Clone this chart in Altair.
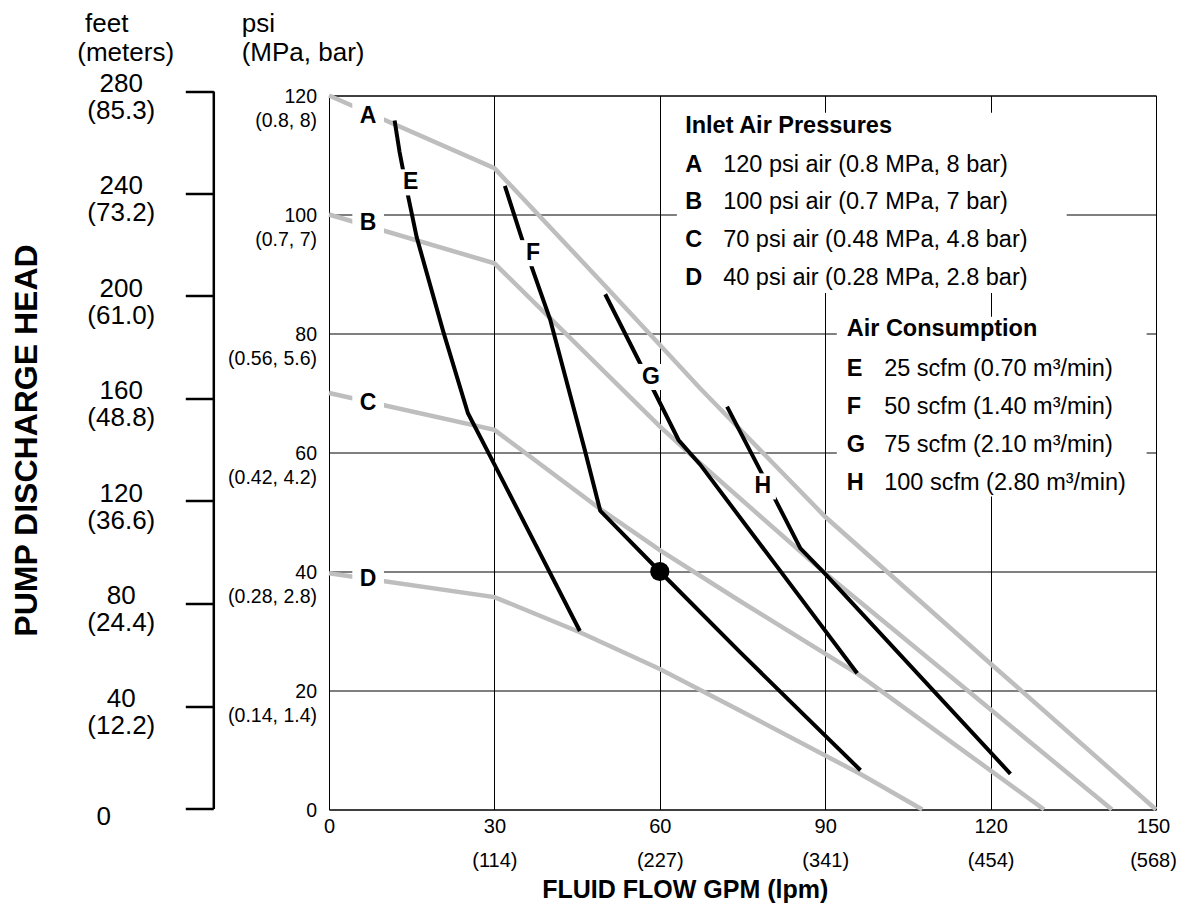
import altair as alt
import pandas as pd

FONT = "Liberation Sans"

# ---------------- axis ticks and labels ----------------
gpm_ticks = [0, 30, 60, 90, 120, 150]
lpm_labels = ["", "(114)", "(227)", "(341)", "(454)", "(568)"]
psi_ticks = [0, 20, 40, 60, 80, 100, 120]
mpa_bar_labels = ["", "(0.14, 1.4)", "(0.28, 2.8)", "(0.42, 4.2)", "(0.56, 5.6)", "(0.7, 7)", "(0.8, 8)"]
feet_ticks = [0, 40, 80, 120, 160, 200, 240, 280]
meter_labels = ["", "(12.2)", "(24.4)", "(36.6)", "(48.8)", "(61.0)", "(73.2)", "(85.3)"]

# ---------------- inlet air pressure curves (gray) ----------------
A_gpm = [0, 30, 50.4, 67.3, 90, 120, 150]
A_psi = [120, 107.8, 87.7, 70.8, 49.2, 24.5, 0]
B_gpm = [0, 30, 60, 67.3, 90, 120, 142]
B_psi = [100, 91.8, 64.4, 58.2, 39.7, 16.8, 0]
C_gpm = [0, 30, 49.2, 60, 74.6, 95.9, 129.7]
C_psi = [70, 63.8, 50.5, 43.6, 35.0, 22.8, 0]
D_gpm = [0, 30, 45.5, 60, 74.6, 96.3, 107.6]
D_psi = [39.7, 35.7, 29.8, 23.6, 16.6, 6.0, 0]

# ---------------- air consumption curves (black) ----------------
E_gpm = [11.9, 12.8, 14.3, 15.9, 20.7, 25.2, 30.0, 45.5]
E_psi = [115.8, 110.5, 103.3, 96.2, 80.4, 66.6, 58.0, 30.0]
F_gpm = [31.9, 35.2, 40.1, 46.4, 49.2, 60, 74.6, 96.4]
F_psi = [104.8, 95.3, 82.4, 60.4, 50.2, 40.0, 26.4, 6.6]
G_gpm = [50.1, 56.7, 63.4, 67.3, 81.2, 95.8]
G_psi = [86.6, 74.5, 62.1, 58.0, 40.9, 22.9]
H_gpm = [72.2, 78.5, 85.5, 90.0, 123.6]
H_psi = [67.7, 56.5, 43.9, 39.6, 6.0]

# example operating point
dot_gpm = [60]
dot_psi = [40]

# ---------------- curve letters / legend text ----------------
inlet_keys = ["A", "B", "C", "D"]
inlet_desc = ["120 psi air (0.8 MPa, 8 bar)", "100 psi air (0.7 MPa, 7 bar)",
              "70 psi air (0.48 MPa, 4.8 bar)", "40 psi air (0.28 MPa, 2.8 bar)"]
air_keys = ["E", "F", "G", "H"]
air_desc = ["25 scfm (0.70 m³/min)", "50 scfm (1.40 m³/min)",
            "75 scfm (2.10 m³/min)", "100 scfm (2.80 m³/min)"]

inlet_label_gpm = [7.1, 7.1, 7.1, 7.1]
inlet_label_psi = [116.6, 98.6, 68.3, 38.7]
air_label_gpm = [14.8, 37.0, 58.4, 78.7]
air_label_psi = [105.4, 93.5, 72.7, 54.3]

# ---------------- legend layout (data units) ----------------
leg1_x, leg1_title_y, leg1_row0, leg1_step, leg1_desc_x = 64.6, 113.7, 107.2, 6.33, 71.5
leg2_x, leg2_title_y, leg2_row0, leg2_step, leg2_desc_x = 93.9, 79.5, 72.9, 6.4, 100.7
box_x = [63.1, 92.1]
box_x2 = [133.8, 148.3]
box_y = [117.1, 82.8]
box_y2 = [86.8, 52.6]

# ---------------- build tables ----------------
def curves(names, xs, ys):
    rows = []
    for n, cx, cy in zip(names, xs, ys):
        for i, (a, b) in enumerate(zip(cx, cy)):
            rows.append({"curve": n, "i": i, "gpm": a, "psi": b})
    return pd.DataFrame(rows)

gray_df = curves(inlet_keys, [A_gpm, B_gpm, C_gpm, D_gpm], [A_psi, B_psi, C_psi, D_psi])
black_df = curves(air_keys, [E_gpm, F_gpm, G_gpm, H_gpm], [E_psi, F_psi, G_psi, H_psi])
dot_df = pd.DataFrame({"gpm": dot_gpm, "psi": dot_psi})
inlet_lab_df = pd.DataFrame({"k": inlet_keys, "gpm": inlet_label_gpm, "psi": inlet_label_psi})
air_lab_df = pd.DataFrame({"k": air_keys, "gpm": air_label_gpm, "psi": air_label_psi})
box_df = pd.DataFrame({"x": box_x, "x2": box_x2, "y": box_y, "y2": box_y2})

leg_rows = []
for i, (k, d) in enumerate(zip(inlet_keys, inlet_desc)):
    leg_rows.append({"k": k, "d": d, "kx": leg1_x, "dx": leg1_desc_x, "y": leg1_row0 - i * leg1_step})
for i, (k, d) in enumerate(zip(air_keys, air_desc)):
    leg_rows.append({"k": k, "d": d, "kx": leg2_x, "dx": leg2_desc_x, "y": leg2_row0 - i * leg2_step})
leg_df = pd.DataFrame(leg_rows)
leg_title_df = pd.DataFrame({"t": ["Inlet Air Pressures", "Air Consumption"],
                             "x": [leg1_x, leg2_x], "y": [leg1_title_y, leg2_title_y]})
feet_df = pd.DataFrame({"ft": feet_ticks})
one = pd.DataFrame({"o": [0]})


def two_line_expr(vals, seconds):
    parts = [f"datum.value == {v} ? [datum.label, '{s}']" for v, s in zip(vals, seconds) if s]
    return " : ".join(parts) + " : datum.label"


x_axis = alt.Axis(
    values=gpm_ticks, grid=True, gridColor="black", gridWidth=1, gridOpacity=1,
    domain=False, ticks=False, tickSize=0,
    labelExpr=two_line_expr(gpm_ticks, lpm_labels),
    labelFont=FONT, labelFontSize=20, labelColor="black",
    labelBaseline="alphabetic", labelPadding=23, labelLineHeight=34,
    labelOffset={"condition": {"test": "datum.value === 150", "value": -3}, "value": 0},
    labelFlush=False, labelOverlap=False,
    title="FLUID FLOW GPM (lpm)", titleFont=FONT, titleFontSize=25,
    titleFontWeight="bold", titleColor="black", titleAnchor="start",
    titleAlign="left", titleBaseline="alphabetic", titleX=212.7, titleY=87.5,
)
y_axis = alt.Axis(
    values=psi_ticks, grid=True, gridColor="black", gridWidth=1, gridOpacity=1,
    domain=False, ticks=False, tickSize=0,
    labelExpr=two_line_expr(psi_ticks, mpa_bar_labels),
    labelFont=FONT, labelFontSize=19.5, labelColor="black", labelAlign="right",
    labelBaseline="alphabetic", labelOffset=7, labelPadding=12.5, labelLineHeight=24,
    labelOverlap=False,
    title="PUMP DISCHARGE HEAD", titleFont=FONT, titleFontSize=32,
    titleFontWeight="bold", titleColor="black", titleAngle=270,
    titleAlign="center", titleBaseline="alphabetic", titleX=-292.3, titleY=344.5,
)
feet_axis = alt.Axis(
    orient="left", offset=115.7, values=feet_ticks, grid=False,
    domain=True, domainColor="black", domainWidth=2.5,
    ticks=True, tickSize=28, tickWidth=2.5, tickColor="black",
    labelExpr=two_line_expr(feet_ticks, meter_labels),
    labelFont=FONT, labelFontSize=26, labelColor="black", labelAlign="center",
    labelBaseline="alphabetic", labelLineHeight=27,
    labelPadding={"condition": {"test": "datum.value === 0", "value": 82}, "value": 64.5},
    labelOffset={"condition": {"test": "datum.value === 0", "value": 16}, "value": 0},
    labelOverlap=False, title=None,
)

XS = alt.Scale(domain=[0, 150], nice=False, zero=False)
YS = alt.Scale(domain=[0, 120], nice=False, zero=False)


def X(f):
    return alt.X(f"{f}:Q", scale=XS, axis=x_axis)


def Y(f):
    return alt.Y(f"{f}:Q", scale=YS, axis=y_axis)


boxes = alt.Chart(box_df).mark_rect(color="white", opacity=1).encode(
    x=X("x"), x2="x2:Q", y=Y("y"), y2="y2:Q")
gray = alt.Chart(gray_df).mark_line(color="#bebebe", strokeWidth=4.5).encode(
    x=X("gpm"), y=Y("psi"), detail="curve:N", order="i:Q")
black = alt.Chart(black_df).mark_line(color="black", strokeWidth=4).encode(
    x=X("gpm"), y=Y("psi"), detail="curve:N", order="i:Q")
dot = alt.Chart(dot_df).mark_circle(color="black", size=370, opacity=1).encode(
    x=X("gpm"), y=Y("psi"))
sq_inlet = alt.Chart(inlet_lab_df).mark_square(color="white", size=1000, opacity=1).encode(
    x=X("gpm"), y=Y("psi"))
sq_air = alt.Chart(air_lab_df).mark_square(color="white", size=680, opacity=1).encode(
    x=X("gpm"), y=Y("psi"))
txt_style = dict(font=FONT, fontSize=23, fontWeight="bold", color="black",
                 align="center", baseline="middle")
lab_inlet = alt.Chart(inlet_lab_df).mark_text(**txt_style).encode(
    x=X("gpm"), y=Y("psi"), text="k:N")
lab_air = alt.Chart(air_lab_df).mark_text(**txt_style).encode(
    x=X("gpm"), y=Y("psi"), text="k:N")

leg_titles = alt.Chart(leg_title_df).mark_text(
    font=FONT, fontSize=23.5, fontWeight="bold", color="black",
    align="left", baseline="alphabetic").encode(x=X("x"), y=Y("y"), text="t:N")
leg_keys = alt.Chart(leg_df).mark_text(
    font=FONT, fontSize=23.5, fontWeight="bold", color="black",
    align="left", baseline="alphabetic").encode(x=X("kx"), y=Y("y"), text="k:N")
leg_desc = alt.Chart(leg_df).mark_text(
    font=FONT, fontSize=23.5, color="black",
    align="left", baseline="alphabetic").encode(x=X("dx"), y=Y("y"), text="d:N")

unit_style = dict(font=FONT, fontSize=26, color="black", align="left",
                  baseline="alphabetic", lineHeight=29.5)
psi_title = alt.Chart(one).mark_text(**unit_style).encode(
    x=alt.value(-87.3), y=alt.value(-64), text=alt.value(["psi", "(MPa, bar)"]))
feet_word = alt.Chart(one).mark_text(**unit_style).encode(
    x=alt.value(-244), y=alt.value(-64), text=alt.value("feet"))
meters_word = alt.Chart(one).mark_text(**unit_style).encode(
    x=alt.value(-251.7), y=alt.value(-34.5), text=alt.value("(meters)"))

inner = alt.layer(boxes, gray, black, dot, sq_inlet, sq_air, lab_inlet, lab_air,
                  leg_titles, leg_keys, leg_desc, psi_title, feet_word, meters_word)

feet = alt.Chart(feet_df).mark_point(opacity=0).encode(
    x=alt.value(0),
    y=alt.Y("ft:Q", scale=alt.Scale(domain=[0, 280], range=[713, -4.5], nice=False, zero=False),
            axis=feet_axis))

chart = (
    alt.layer(inner, feet)
    .resolve_scale(y="independent")
    .properties(
        width=827, height=714,
        autosize=alt.AutoSizeParams(type="none"),
        padding={"left": 321, "top": 87.5, "right": 21, "bottom": 93.5},
    )
    .configure_view(stroke="black", strokeWidth=1)
)

chart.save("out.html", embed_options={"renderer": "svg", "actions": False})
